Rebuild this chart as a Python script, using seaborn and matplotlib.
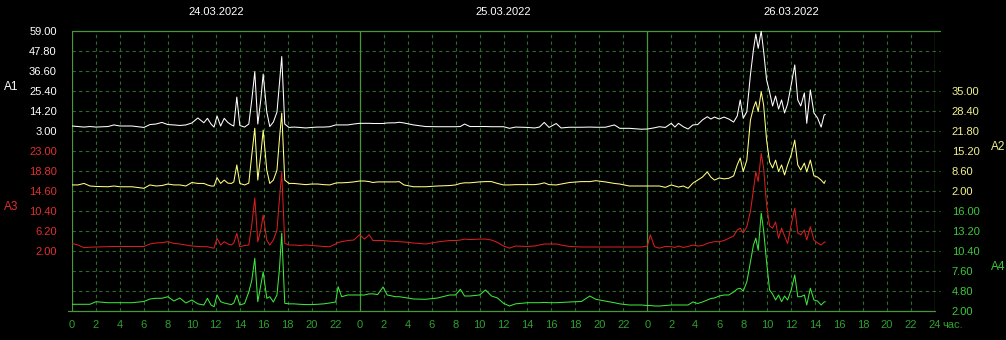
import matplotlib
matplotlib.use("Agg")
import matplotlib.pyplot as plt
import seaborn as sns

# ---------------- data (hours counted from 24.03.2022 00:00) ----------------
hours_d1 = [0, 0.5, 1, 1.5, 2, 3, 3.5, 4, 5, 6,
            6.5, 7, 7.5, 8, 8.5, 9, 9.5, 10, 10.5, 11,
            11.3, 11.6, 11.85, 12.1, 12.4, 12.7, 13.0, 13.3, 13.5, 13.75,
            14.0, 14.4, 14.75, 15.0, 15.25, 15.5, 15.75, 15.95, 16.25, 16.5,
            16.8, 17.1, 17.3, 17.5, 17.75, 18.1, 18.5, 19, 19.5, 20,
            20.5, 21, 21.5, 22, 22.2, 22.5, 23, 23.5]
hours_d2 = [24, 24.4, 24.8, 25.1, 25.5, 25.95, 26.3, 27, 27.3, 27.7,
            28.5, 29.5, 30.5, 31.5, 32, 32.4, 32.75, 33.2, 34, 34.5,
            35, 35.5, 36, 36.5, 37, 38, 38.6, 39, 39.4, 39.8,
            40.4, 40.8, 41.5, 42.5, 43.2, 43.7, 44.5, 45.25, 45.7, 46.5,
            47.5]
hours_d3 = [48, 48.25, 48.6, 49, 49.5, 50, 50.3, 50.6, 51, 51.4,
            51.8, 52.2, 52.6, 53.0, 53.3, 53.6, 54.0, 54.4, 54.8, 55.2,
            55.5, 55.75, 56.0, 56.3, 56.6, 56.85, 57.05, 57.25, 57.5, 57.7,
            57.95, 58.2, 58.45, 58.7, 58.95, 59.2, 59.45, 59.7, 60.0, 60.3,
            60.55, 60.8, 61.1, 61.3, 61.6, 61.9, 62.2, 62.5, 62.75, 62.85]

a1_d1 = [5.8, 5.5, 5.2, 5.5, 5.2, 5.5, 6.4, 5.8, 5.8, 5.0,
         6.6, 6.9, 7.8, 6.6, 6.4, 6.1, 6.4, 7.5, 10.3, 7.6,
         10.1, 6.9, 5.2, 11.4, 5.8, 10.1, 7.8, 6.4, 5.8, 22.0,
         6.1, 5.2, 6.9, 20.4, 36.2, 6.9, 20.4, 34.9, 13.6, 5.5,
         8.0, 13.6, 28.8, 44.7, 6.9, 5.0, 5.2, 5.0, 4.7, 5.0,
         5.2, 5.2, 5.4, 6.4, 6.4, 6.4, 6.4, 6.9]
a1_d2 = [7.3, 7.3, 7.3, 7.2, 7.2, 7.2, 7.5, 7.6, 7.9, 7.5,
         6.4, 5.5, 5.4, 5.4, 5.4, 5.5, 6.9, 5.5, 5.5, 5.5,
         5.4, 5.4, 5.4, 4.5, 5.2, 5.0, 4.7, 5.2, 7.8, 5.0,
         7.2, 4.7, 5.1, 5.1, 5.2, 5.1, 5.1, 6.4, 4.5, 4.5,
         4.0]
a1_d3 = [4.1, 4.4, 4.8, 5.4, 5.0, 7.3, 5.2, 7.3, 5.4, 4.1,
         6.4, 6.6, 9.2, 11.0, 9.7, 10.8, 9.7, 10.8, 9.7, 8.0,
         11.4, 20.4, 10.1, 13.8, 34.4, 48.4, 57.3, 49.3, 59.0, 47.8,
         31.6, 24.8, 17.0, 22.6, 15.3, 20.4, 13.1, 18.1, 28.8, 40.0,
         20.4, 17.0, 24.3, 7.3, 26.0, 13.1, 10.3, 5.2, 12.0, 12.2]

a2_d1 = [4.0, 4.0, 4.5, 3.65, 3.5, 3.4, 3.65, 3.4, 3.4, 2.9,
         4.0, 3.65, 3.8, 4.3, 4.0, 4.0, 3.65, 4.8, 4.5, 4.5,
         4.0, 3.65, 3.65, 6.4, 4.5, 5.6, 4.6, 4.5, 5.0, 10.6,
         4.5, 4.0, 4.6, 13.9, 22.7, 5.6, 13.9, 22.1, 8.9, 4.5,
         5.6, 8.9, 18.8, 27.7, 5.6, 4.5, 4.5, 4.3, 4.1, 4.3,
         4.3, 4.1, 4.0, 4.6, 4.7, 4.7, 4.8, 5.0]
a2_d2 = [5.3, 5.3, 5.1, 4.8, 5.0, 5.0, 5.0, 5.0, 5.1, 4.0,
         3.4, 3.4, 3.65, 3.8, 4.0, 4.5, 4.7, 4.7, 5.0, 5.1,
         5.1, 4.5, 4.0, 4.0, 4.1, 4.1, 4.1, 4.3, 4.7, 4.1,
         4.0, 4.3, 4.8, 5.1, 5.1, 5.4, 5.0, 4.5, 4.3, 3.65,
         3.65]
a2_d3 = [3.65, 3.65, 3.65, 3.65, 3.2, 4.0, 3.65, 3.3, 3.65, 2.9,
         4.6, 5.6, 6.6, 8.3, 6.6, 5.6, 6.3, 6.0, 6.2, 7.0,
         10.6, 12.9, 8.4, 12.2, 25.4, 29.4, 31.5, 28.2, 34.8, 30.4,
         18.8, 11.6, 9.6, 12.2, 8.4, 10.6, 7.3, 10.6, 13.9, 18.8,
         10.6, 8.9, 11.2, 8.3, 12.2, 7.0, 6.6, 5.6, 4.5, 5.4]

a3_d1 = [3.6, 3.26, 2.7, 2.8, 2.84, 2.9, 2.95, 2.95, 2.95, 2.95,
         3.47, 3.68, 3.75, 3.95, 3.6, 3.47, 3.26, 3.05, 2.95, 2.9,
         2.9, 2.7, 2.6, 4.67, 3.26, 3.95, 3.47, 3.26, 3.68, 5.7,
         2.9, 3.15, 3.26, 7.5, 13.1, 3.95, 6.4, 9.56, 4.3, 3.26,
         4.3, 6.4, 12.7, 18.5, 3.6, 3.26, 3.26, 3.15, 3.26, 3.15,
         3.05, 2.95, 2.9, 3.47, 3.8, 3.95, 4.2, 4.3]
a3_d2 = [5.4, 4.5, 5.4, 4.2, 4.2, 4.2, 4.1, 4.0, 3.95, 3.9,
         3.68, 3.47, 3.9, 4.2, 4.2, 4.3, 4.5, 4.4, 4.5, 4.5,
         4.3, 3.8, 3.05, 2.6, 3.05, 2.95, 3.05, 3.26, 3.47, 3.47,
         3.47, 3.26, 2.95, 2.84, 2.84, 2.84, 2.84, 2.84, 2.84, 2.84,
         2.84]
a3_d3 = [3.05, 5.4, 2.9, 2.6, 2.95, 2.9, 2.75, 3.05, 2.75, 2.95,
         3.26, 3.05, 3.15, 3.6, 3.8, 3.95, 3.95, 4.2, 4.67, 5.15,
         6.4, 6.8, 5.8, 7.1, 10.3, 14.8, 18.6, 16.6, 22.5, 19.4,
         11.7, 7.25, 6.8, 8.1, 4.67, 6.8, 5.15, 3.6, 7.5, 11.0,
         5.8, 5.4, 6.4, 4.3, 7.1, 4.3, 3.68, 3.26, 3.8, 3.9]

a4_d1 = [2.94, 2.94, 2.94, 2.94, 3.3, 3.16, 3.16, 3.16, 3.16, 3.33,
         3.68, 3.78, 3.78, 4.0, 3.4, 3.82, 3.12, 3.54, 3.0, 2.84,
         3.78, 2.84, 2.6, 4.24, 3.3, 3.12, 3.0, 2.9, 3.12, 4.24,
         2.84, 3.05, 4.66, 6.3, 9.38, 3.3, 5.64, 7.46, 3.78, 4.0,
         3.26, 4.24, 7.74, 12.9, 3.08, 3.0, 3.0, 2.94, 2.9, 2.9,
         2.94, 3.0, 3.12, 3.26, 5.4, 4.0, 4.24, 4.24]
a4_d2 = [4.24, 4.24, 4.4, 4.4, 4.3, 5.36, 4.24, 4.0, 4.0, 3.9,
         3.68, 3.64, 3.82, 4.24, 4.24, 5.04, 4.1, 4.1, 4.24, 4.94,
         4.1, 3.82, 3.08, 2.7, 3.0, 3.16, 3.16, 3.16, 3.2, 3.16,
         3.16, 3.2, 3.26, 3.33, 4.1, 3.64, 3.4, 3.16, 3.0, 2.84,
         2.84]
a4_d3 = [2.77, 2.77, 2.7, 2.7, 2.77, 2.84, 2.84, 2.84, 2.84, 2.84,
         3.26, 3.05, 3.26, 3.54, 3.75, 3.82, 4.1, 4.24, 4.24, 4.66,
         5.08, 5.18, 4.8, 6.06, 8.86, 11.2, 12.2, 10.5, 15.7, 13.3,
         8.86, 4.94, 4.38, 3.54, 4.24, 3.3, 4.1, 3.54, 4.94, 7.04,
         4.0, 4.0, 4.24, 2.84, 5.18, 3.54, 3.4, 2.84, 3.26, 3.3]

day_labels = ["24.03.2022", "25.03.2022", "26.03.2022"]
series_names = ["A1", "A2", "A3", "A4"]
a1_ticks = [3.00, 14.20, 25.40, 36.60, 47.80, 59.00]
a2_ticks = [2.00, 8.60, 15.20, 21.80, 28.40, 35.00]
a3_ticks = [2.00, 6.20, 10.40, 14.60, 18.80, 23.00]
a4_ticks = [2.00, 4.80, 7.60, 10.40, 13.20, 16.00]
hour_ticks = list(range(0, 73, 2))
hour_tick_labels = [str(h % 24) if h < 72 else "24" for h in hour_ticks]
unit_label = "час."

hours = hours_d1 + hours_d2 + hours_d3
a1 = a1_d1 + a1_d2 + a1_d3
a2 = a2_d1 + a2_d2 + a2_d3
a3 = a3_d1 + a3_d2 + a3_d3
a4 = a4_d1 + a4_d2 + a4_d3

# ---------------- styling ----------------
sns.set_style("dark")
plt.rcParams["font.family"] = ["Liberation Sans", "DejaVu Sans"]
plt.rcParams["font.size"] = 8

BG = "black"
GRID = "#2b6b2b"
FRAME = "#4a963a"
XTXT = "#2fa02f"

W, H = 1006, 340
fig = plt.figure(figsize=(W / 100, H / 100), dpi=100, facecolor=BG)
L, R, T, B = 72, 935, 31, 311
base = fig.add_axes([L / W, 1 - B / H, (R - L) / W, (B - T) / H])
base.set_facecolor(BG)
base.set_xlim(0, 72)
base.set_ylim(0, 14)
for s in base.spines.values():
    s.set_visible(False)
base.set_yticks([])
base.grid(False)

# grid
for k in range(1, 14):
    base.plot([0, 72.4], [k, k], color=GRID, lw=0.8, ls=(0, (3, 3)),
              clip_on=False, zorder=0)
base.plot([0, 72.4], [14, 14], color=FRAME, lw=0.9, clip_on=False, zorder=0)
base.plot([-0.35, 72], [0, 0], color=FRAME, lw=0.9, clip_on=False, zorder=0)
for h in range(0, 73, 2):
    if h % 24 == 0:
        base.axvline(h, color=FRAME, lw=0.9, zorder=0)
    else:
        base.axvline(h, color=GRID, lw=0.8, ls=(0, (3, 3)), zorder=0)

base.set_xticks(hour_ticks)
base.set_xticklabels(hour_tick_labels)
base.tick_params(axis="x", colors=XTXT, length=0, pad=6.5, labelsize=8)
base.annotate(unit_label, xy=(72, 0), xycoords=("data", "axes fraction"),
              xytext=(5.5, -6.5), textcoords="offset points",
              ha="left", va="top", color=XTXT, fontsize=8)
for i, lab in enumerate(day_labels):
    base.annotate(lab, xy=(12 + 24 * i, 1), xycoords=("data", "axes fraction"),
                  xytext=(0, 14), textcoords="offset points",
                  ha="center", va="center", color="white", fontsize=8)

# series: (values, ticks, grid row of lowest tick from top, side, line colour, text colour)
specs = [
    (a1, a1_ticks, 5, "left", "#ffffff", "#ffffff"),
    (a2, a2_ticks, 8, "right", "#ffff80", "#f2f28c"),
    (a3, a3_ticks, 11, "left", "#d81e1e", "#e03030"),
    (a4, a4_ticks, 14, "right", "#3ce63c", "#3cc83c"),
]
for vals, ticks, k, side, lc, tc in specs:
    ax = base.twinx()
    sns.lineplot(x=hours, y=vals, ax=ax, color=lc, linewidth=0.75,
                 estimator=None, sort=False, legend=False)
    step = ticks[1] - ticks[0]
    ax.set_ylim(ticks[0] - (14 - k) * step, ticks[0] + k * step)
    ax.set_yticks(ticks)
    ax.set_yticklabels([f"{t:.2f}" for t in ticks])
    if side == "left":
        ax.yaxis.tick_left()
        ax.tick_params(axis="y", colors=tc, length=0, pad=11, labelsize=8)
    else:
        ax.yaxis.tick_right()
        ax.tick_params(axis="y", colors=tc, length=0, pad=12, labelsize=8)
    ax.set_xlabel("")
    ax.set_ylabel("")
    ax.grid(False)
    ax.patch.set_visible(False)
    for s in ax.spines.values():
        s.set_visible(False)
base.set_xlim(0, 72)

# series names
name_pos = [(11, 87.5, "#ffffff"), (998, 147, "#f2f28c"),
            (11, 207, "#e03030"), (998, 267, "#3cc83c")]
for name, (px, py, c) in zip(series_names, name_pos):
    fig.text(px / W, 1 - py / H, name, color=c, fontsize=8.5,
             ha="center", va="center")

fig.savefig("out.png", dpi=100, facecolor=BG)
